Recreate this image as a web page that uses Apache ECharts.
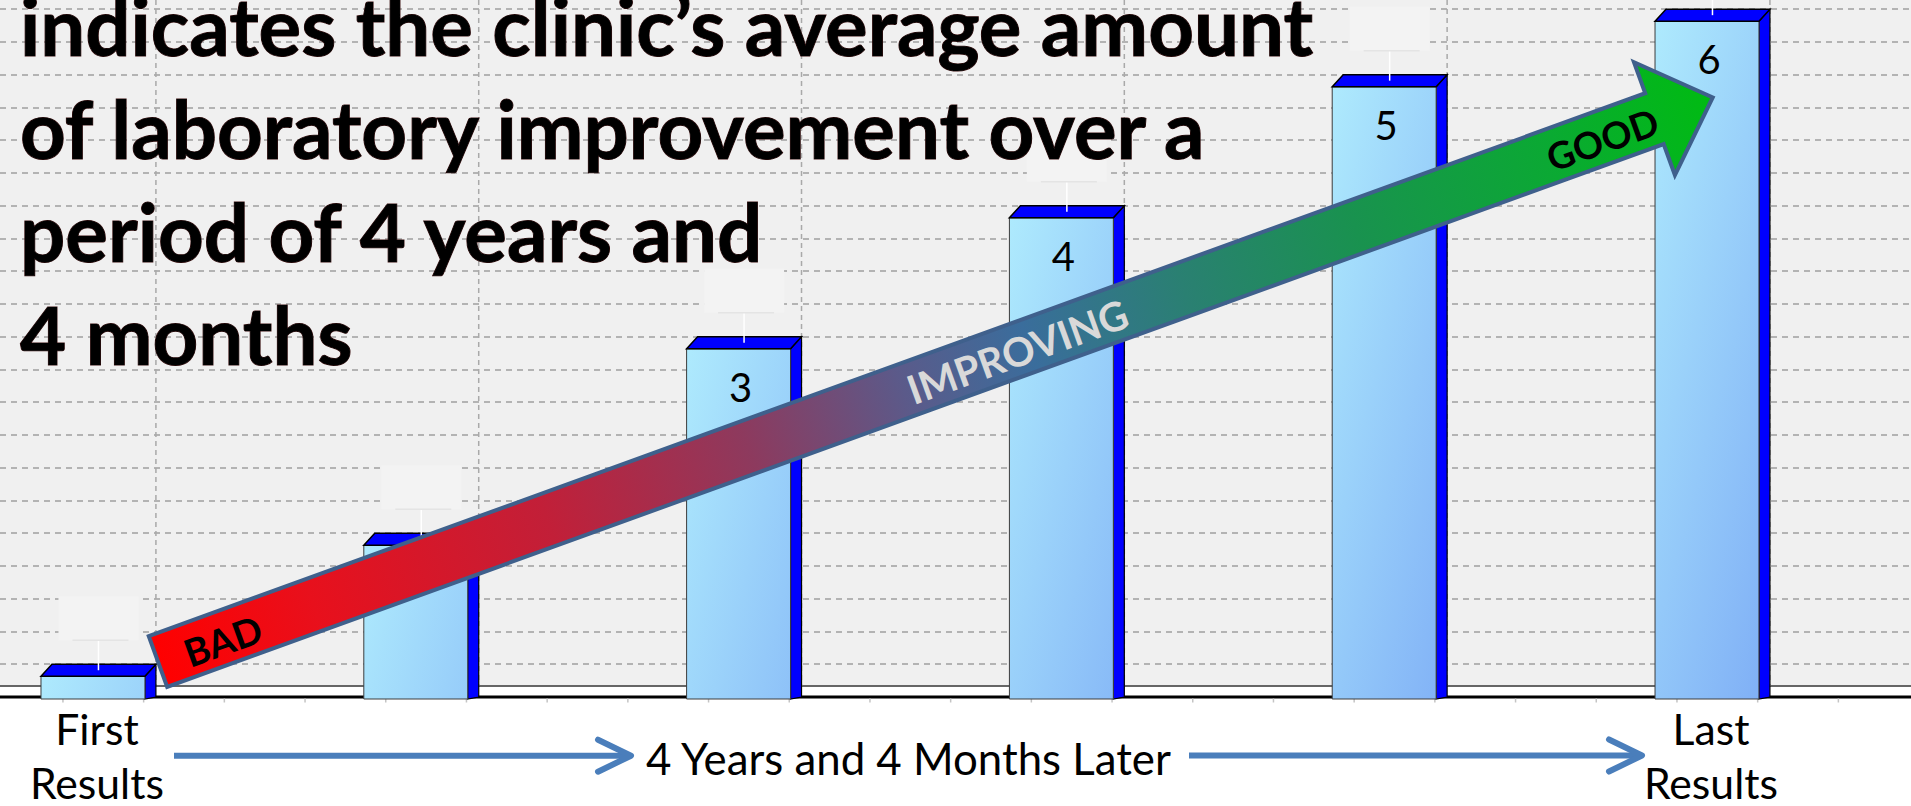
<!DOCTYPE html>
<html>
<head>
<meta charset="utf-8">
<script src="https://cdn.jsdelivr.net/npm/echarts@6/dist/echarts.min.js"></script>
<style>
html,body{margin:0;padding:0;background:#ffffff;}
#c{width:1911px;height:806px;}
</style>
</head>
<body>
<div id="c"></div>
<script>
// ---------------- data ----------------
const categories = ['First\nResults', '', '', '', '', 'Last\nResults'];
const barLabels = ['', '', '3', '4', '5', '6'];
const improvementValues = [1, 5, 11, 15, 19, 21];
const periodLabel = '4 Years and 4 Months Later';
const titleLines = [
  'indicates the clinic\u2019s average amount',
  'of laboratory improvement over a',
  'period of 4 years and',
  '4 months'
];
const titlePrefix = 'indicates the ';
const titleUnderlined = 'clinic\u2019s average';
const arrowWords = ['BAD', 'IMPROVING', 'GOOD'];

// ---------------- layout constants ----------------
const X_MIN = -0.288, X_MAX = 5.632;
const Y_MAX = 21.28;
const arrowTail = [0.2014, 1.084];
const arrowTip = [5.0186, 18.29];

const FONT = 'Lato, "Open Sans", "DejaVu Sans", sans-serif';
const mctx = document.createElement('canvas').getContext('2d');
function fit(text, weight, target) {
  mctx.font = weight + ' 100px Lato';
  return 100 * target / mctx.measureText(text).width;
}
function measure(text, weight, size) {
  mctx.font = weight + ' ' + size + 'px Lato';
  return mctx.measureText(text).width;
}

const titleSize = fit(titleLines[0], 700, 1294);
const catSize = fit('Results', 400, 134);
const periodSize = fit(periodLabel, 400, 527);
const digitSize = 40;
const wordSizes = [fit('BAD', 700, 80), fit('IMPROVING', 700, 232), fit('GOOD', 700, 116)];

const chart = echarts.init(document.getElementById('c'), null, {renderer: 'svg', width: 1911, height: 806});

function renderDecor(params, api) {
  const i = api.value(0);
  const unit = api.size([1, 1]);
  const base = api.coord([i, 0]);
  const cs = params.coordSys;
  const floorBack = base[1] - unit[1] * 0.335;
  const children = [];
  const gx = api.coord([i + 0.195, 0])[0];
  children.push({type: 'line', shape: {x1: gx, y1: cs.y, x2: gx, y2: floorBack},
    style: {stroke: '#a9a9a9', lineWidth: 1.5, lineDash: [5, 4]}});
  if (params.dataIndex === 0) {
    const left = cs.x, right = cs.x + cs.width;
    children.push({type: 'rect', shape: {x: left, y: floorBack, width: right - left, height: base[1] - floorBack},
      style: {fill: '#ffffff'}});
    children.push({type: 'line', shape: {x1: left, y1: floorBack, x2: right, y2: floorBack},
      style: {stroke: '#666666', lineWidth: 2}});
    children.push({type: 'line', shape: {x1: left, y1: base[1], x2: right, y2: base[1]},
      style: {stroke: '#000000', lineWidth: 3}});
    for (let k = 0; k < 30; k++) {
      const tx = api.coord([-0.093 + 0.25 * k, 0])[0];
      if (tx > right) break;
      children.push({type: 'line', shape: {x1: tx, y1: base[1] + 1.5, x2: tx, y2: base[1] + 5.5},
        style: {stroke: '#c4c4c4', lineWidth: 1.5}});
    }
  }
  return {type: 'group', children: children};
}

function renderBar(params, api) {
  const i = api.value(0), v = api.value(1);
  const unit = api.size([1, 1]);
  const base = api.coord([i, 0]);
  const top = api.coord([i, v]);
  const halfW = unit[0] * 0.161, dX = unit[0] * 0.034, dY = unit[1] * 0.37;
  const cx = base[0], fl = cx - halfW, fr = cx + halfW;
  const backTop = top[1], frontTop = backTop + dY, bottom = base[1] + 2;
  const ex = cx + dX / 2, capY = backTop - unit[1] * 0.73;
  const frontFill = new echarts.graphic.LinearGradient(fl, frontTop, fl + 260, frontTop + 67,
    [{offset: 0, color: '#aeeafd'}, {offset: 1, color: '#80b0f6'}], true);
  const children = [
    {type: 'rect', shape: {x: ex - 40, y: capY - 44, width: 80, height: 44}, style: {fill: '#f3f3f3'}},
    {type: 'polygon', shape: {points: [[fr, frontTop], [fr + dX, backTop], [fr + dX, bottom - 2], [fr, bottom]]},
      style: {fill: '#0000ff', stroke: '#000000', lineWidth: 1.2}},
    {type: 'rect', shape: {x: fl, y: frontTop, width: fr - fl, height: bottom - frontTop},
      style: {fill: frontFill, stroke: '#3c3c3c', lineWidth: 1}},
    {type: 'polygon', shape: {points: [[fl, frontTop], [fl + dX, backTop], [fr + dX, backTop], [fr, frontTop]]},
      style: {fill: '#0000ff', stroke: '#000000', lineWidth: 1.5}},
    {type: 'line', shape: {x1: ex, y1: backTop + 6, x2: ex, y2: capY}, style: {stroke: '#ffffff', lineWidth: 1.5}},
    {type: 'line', shape: {x1: ex - 26, y1: capY, x2: ex + 30, y2: capY}, style: {stroke: '#e4e4e4', lineWidth: 1.5}},
    {type: 'text', style: {text: barLabels[i], x: cx + 2, y: frontTop + 38, align: 'center', verticalAlign: 'middle',
      font: '400 ' + digitSize + 'px ' + FONT, fill: '#000000'}},
    {type: 'text', style: {text: categories[i], x: cx + 4, y: 755, align: 'center', verticalAlign: 'middle',
      font: '400 ' + catSize.toFixed(1) + 'px ' + FONT, lineHeight: 54, fill: '#000000'}}
  ];
  return {type: 'group', children: children};
}

chart.setOption({
  backgroundColor: '#ffffff',
  animation: false,
  grid: {left: 0, right: 0, top: 0, bottom: 109, show: true, backgroundColor: '#f0f0f0', borderWidth: 0},
  xAxis: {type: 'value', min: X_MIN, max: X_MAX, show: false},
  yAxis: {
    type: 'value', min: 0, max: Y_MAX, interval: 1,
    axisLine: {show: false}, axisTick: {show: false}, axisLabel: {show: false},
    splitLine: {show: true, showMinLine: false, showMaxLine: false,
      lineStyle: {color: '#b3b3b3', width: 2, type: [6, 5]}}
  },
  series: [
    {type: 'custom', z: 3, renderItem: renderDecor, silent: true,
      data: categories.map((c, i) => [i]), encode: {x: 0}},
    {type: 'custom', z: 5, renderItem: renderBar, silent: true,
      data: improvementValues.map((v, i) => [i, v]), encode: {x: 0, y: 1}}
  ]
});

// ---------- overlay graphics ----------
const p0 = chart.convertToPixel({gridIndex: 0}, arrowTail);
const p1 = chart.convertToPixel({gridIndex: 0}, arrowTip);
const adx = p1[0] - p0[0], ady = p1[1] - p0[1];
const alen = Math.hypot(adx, ady);
const aang = Math.atan2(-ady, adx);
const headLen = 62, shaftHalf = 27, headHalf = 60;
const sl = alen - headLen;
const arrowFill = new echarts.graphic.LinearGradient(0, 0, 1, 0, [
  {offset: 0, color: '#ff0000'},
  {offset: 0.1, color: '#e8101c'},
  {offset: 0.25, color: '#c21f38'},
  {offset: 0.38, color: '#8d3a5e'},
  {offset: 0.48, color: '#5b5a8a'},
  {offset: 0.56, color: '#3a6d9c'},
  {offset: 0.66, color: '#2a8072'},
  {offset: 0.77, color: '#19924f'},
  {offset: 0.9, color: '#0aaa32'},
  {offset: 1, color: '#00bb12'}
]);
function wordStyle(text, size, color) {
  return {text: text, x: 0, y: 0, align: 'center', verticalAlign: 'middle',
    font: '700 ' + size.toFixed(1) + 'px ' + FONT, fill: color};
}
const along = (px) => (px - p0[0]) / Math.cos(aang);

const titleFill = new echarts.graphic.LinearGradient(0, 0, 0, 1, [
  {offset: 0, color: '#2a2a2a'}, {offset: 0.45, color: '#050505'}, {offset: 1, color: '#000000'}
]);
const titleStyle = (text, y) => ({
  type: 'text', z: 100, x: 20, y: y,
  style: {text: text, align: 'left', verticalAlign: 'middle', font: '700 ' + titleSize.toFixed(1) + 'px ' + FONT,
    fill: titleFill, stroke: '#3a1010', lineWidth: 1,
    shadowColor: 'rgba(0,0,0,0.5)', shadowBlur: 5, shadowOffsetX: 2, shadowOffsetY: 4}
});
const baselines = [51, 154, 257, 360];
const midOff = 0.322 * titleSize;
const ulX1 = 20 + measure(titlePrefix, 700, titleSize);
const ulX2 = 20 + measure(titlePrefix + titleUnderlined, 700, titleSize);

const elements = [];
titleLines.forEach((t, k) => elements.push(titleStyle(t, baselines[k] - midOff)));
elements.push({type: 'line', z: 100, shape: {x1: ulX1, y1: 65.5, x2: ulX2, y2: 65.5},
  style: {stroke: '#111111', lineWidth: 3.5, shadowColor: 'rgba(0,0,0,0.4)', shadowBlur: 4, shadowOffsetY: 3}});

elements.push({
  type: 'group', z: 50, x: p0[0], y: p0[1], rotation: aang,
  children: [
    {type: 'polygon', z: 50, shape: {points: [[0, -shaftHalf], [sl, -shaftHalf], [sl, -headHalf], [alen, 0],
      [sl, headHalf], [sl, shaftHalf], [0, shaftHalf]]},
      style: {fill: arrowFill, stroke: '#3f608c', lineWidth: 4, lineJoin: 'miter'}},
    {type: 'text', z: 51, x: along(222), y: 2, style: wordStyle(arrowWords[0], wordSizes[0], '#000000')},
    {type: 'text', z: 51, x: along(1017), y: 1, style: wordStyle(arrowWords[1], wordSizes[1], '#d9d9d9')},
    {type: 'text', z: 51, x: along(1602), y: 1, style: wordStyle(arrowWords[2], wordSizes[2], '#000000')}
  ]
});

// period label and blue arrows
elements.push({type: 'text', z: 60, x: 908.5, y: 757.5,
  style: {text: periodLabel, align: 'center', verticalAlign: 'middle',
    font: '400 ' + periodSize.toFixed(1) + 'px ' + FONT, fill: '#000000'}});
const blue = '#4a7ebb';
function blueArrow(x1, x2, y) {
  return [
    {type: 'line', z: 60, shape: {x1: x1, y1: y, x2: x2 - 3, y2: y}, style: {stroke: blue, lineWidth: 6}},
    {type: 'polyline', z: 60, shape: {points: [[x2 - 33, y - 16], [x2, y], [x2 - 33, y + 16]]},
      style: {stroke: blue, lineWidth: 6, lineCap: 'round', lineJoin: 'round', fill: 'none'}}
  ];
}
blueArrow(174, 631, 755.7).forEach(e => elements.push(e));
blueArrow(1189, 1642, 755.5).forEach(e => elements.push(e));

chart.setOption({graphic: {elements: elements}});
</script>
</body>
</html>
